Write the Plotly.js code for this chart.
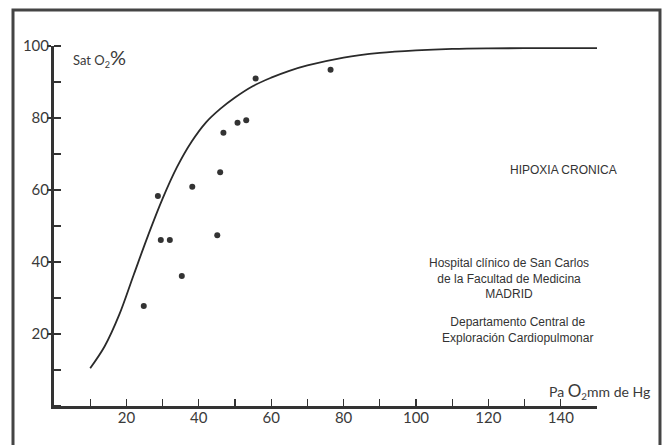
<!DOCTYPE html>
<html><head><meta charset="utf-8">
<script src="https://cdn.plot.ly/plotly-3.0.1.min.js"></script>
<style>html,body{margin:0;padding:0;background:#fff}#c{width:669px;height:445px}</style>
</head><body><div id="c"></div>
<script>
// Curve (Sat O2 % vs Pa O2)
const curvePaO2 = [10, 14, 18, 22, 26, 30, 34, 38, 42, 46, 50, 55, 60, 65, 70, 80, 90, 100, 110, 120, 135, 150];
const curveSat  = [10.5, 16.6, 25.3, 36.4, 47.4, 57.6, 66.4, 73.4, 78.8, 82.6, 85.7, 88.9, 91.2, 93.1, 94.6, 96.8, 98.1, 98.8, 99.2, 99.35, 99.4, 99.4];
// Patient measurements
const ptPaO2 = [24.8, 28.7, 29.5, 32.0, 35.3, 38.2, 45.1, 45.9, 46.8, 50.7, 53.1, 55.7, 76.4];
const ptSat  = [27.8, 58.3, 46.1, 46.1, 36.1, 60.9, 47.4, 64.9, 75.9, 78.7, 79.4, 91.0, 93.4];
// Tick labels
const xTickVals = [20, 40, 60, 80, 100, 120, 140];
const yTickVals = [20, 40, 60, 80, 100];

const ink = '#333';
const tickFont = {family: 'Lato, sans-serif', size: 15, color: '#3a3a3a'};
const txtFont = {family: 'Liberation Sans, Arial, sans-serif', size: 12, color: '#333'};

const traces = [
  {x: curvePaO2, y: curveSat, mode: 'lines', line: {color: '#2a2a2a', width: 1.8, shape: 'spline', smoothing: 1}, hoverinfo: 'skip'},
  {x: ptPaO2, y: ptSat, mode: 'markers', marker: {color: '#333', size: 6}}
];

const layout = {
  width: 669, height: 445,
  margin: {l: 54, r: 72, t: 46, b: 39},
  paper_bgcolor: '#fff', plot_bgcolor: '#fff',
  showlegend: false,
  xaxis: {
    range: [0, 150], showgrid: false, zeroline: false,
    showline: true, linewidth: 3, linecolor: ink,
    tickvals: xTickVals, ticktext: xTickVals.map(String),
    ticks: 'inside', ticklen: 7, tickwidth: 1.2, tickcolor: ink,
    minor: {ticks: 'inside', dtick: 10, tick0: 0, ticklen: 7, tickwidth: 1.2, tickcolor: ink, showgrid: false},
    tickfont: tickFont, ticklabelstandoff: -4
  },
  yaxis: {
    range: [0, 100], showgrid: false, zeroline: false,
    showline: true, linewidth: 3, linecolor: ink,
    tickvals: yTickVals, ticktext: yTickVals.map(String),
    ticks: 'outside', ticklen: 4, tickwidth: 1.2, tickcolor: ink,
    minor: {ticks: 'inside', dtick: 10, tick0: 0, ticklen: 7, tickwidth: 1.2, tickcolor: ink, showgrid: false},
    tickfont: tickFont, ticklabelstandoff: -5
  },
  shapes: [
    {type: 'rect', xref: 'paper', yref: 'paper', x0: -0.0755, x1: 1.116, y0: -0.3, y1: 1.1,
     line: {color: '#444', width: 3}, fillcolor: 'rgba(0,0,0,0)', layer: 'below'}
  ],
  annotations: [
    {xref: 'paper', yref: 'paper', x: 0.031, y: 0.967, xanchor: 'left', yanchor: 'middle', showarrow: false,
     text: "Sat O<sub>2</sub><span style='font-size:20px'>%</span>", font: {family: 'Lato, sans-serif', size: 13, color: '#3a3a3a'}},
    {xref: 'paper', yref: 'paper', x: 0.939, y: 0.656, xanchor: 'center', yanchor: 'middle', showarrow: false,
     text: 'HIPOXIA CRONICA', font: txtFont},
    {xref: 'paper', yref: 'paper', x: 0.838, y: 0.353, xanchor: 'center', yanchor: 'middle', showarrow: false, align: 'center',
     text: 'Hospital clínico de San Carlos<br>de la Facultad de Medicina<br>MADRID', font: txtFont},
    {xref: 'paper', yref: 'paper', x: 0.853, y: 0.211, xanchor: 'center', yanchor: 'middle', showarrow: false, align: 'center',
     text: 'Departamento Central de<br>Exploración Cardiopulmonar', font: txtFont},
    {xref: 'paper', yref: 'paper', x: 1.101, y: 0.042, xanchor: 'right', yanchor: 'middle', showarrow: false,
     text: "Pa <span style='font-size:17px'>O</span><sub>2</sub>mm de Hg", font: {family: 'Lato, sans-serif', size: 14, color: '#3a3a3a'}}
  ]
};

Plotly.newPlot('c', traces, layout, {staticPlot: true, displayModeBar: false});
</script></body></html>
